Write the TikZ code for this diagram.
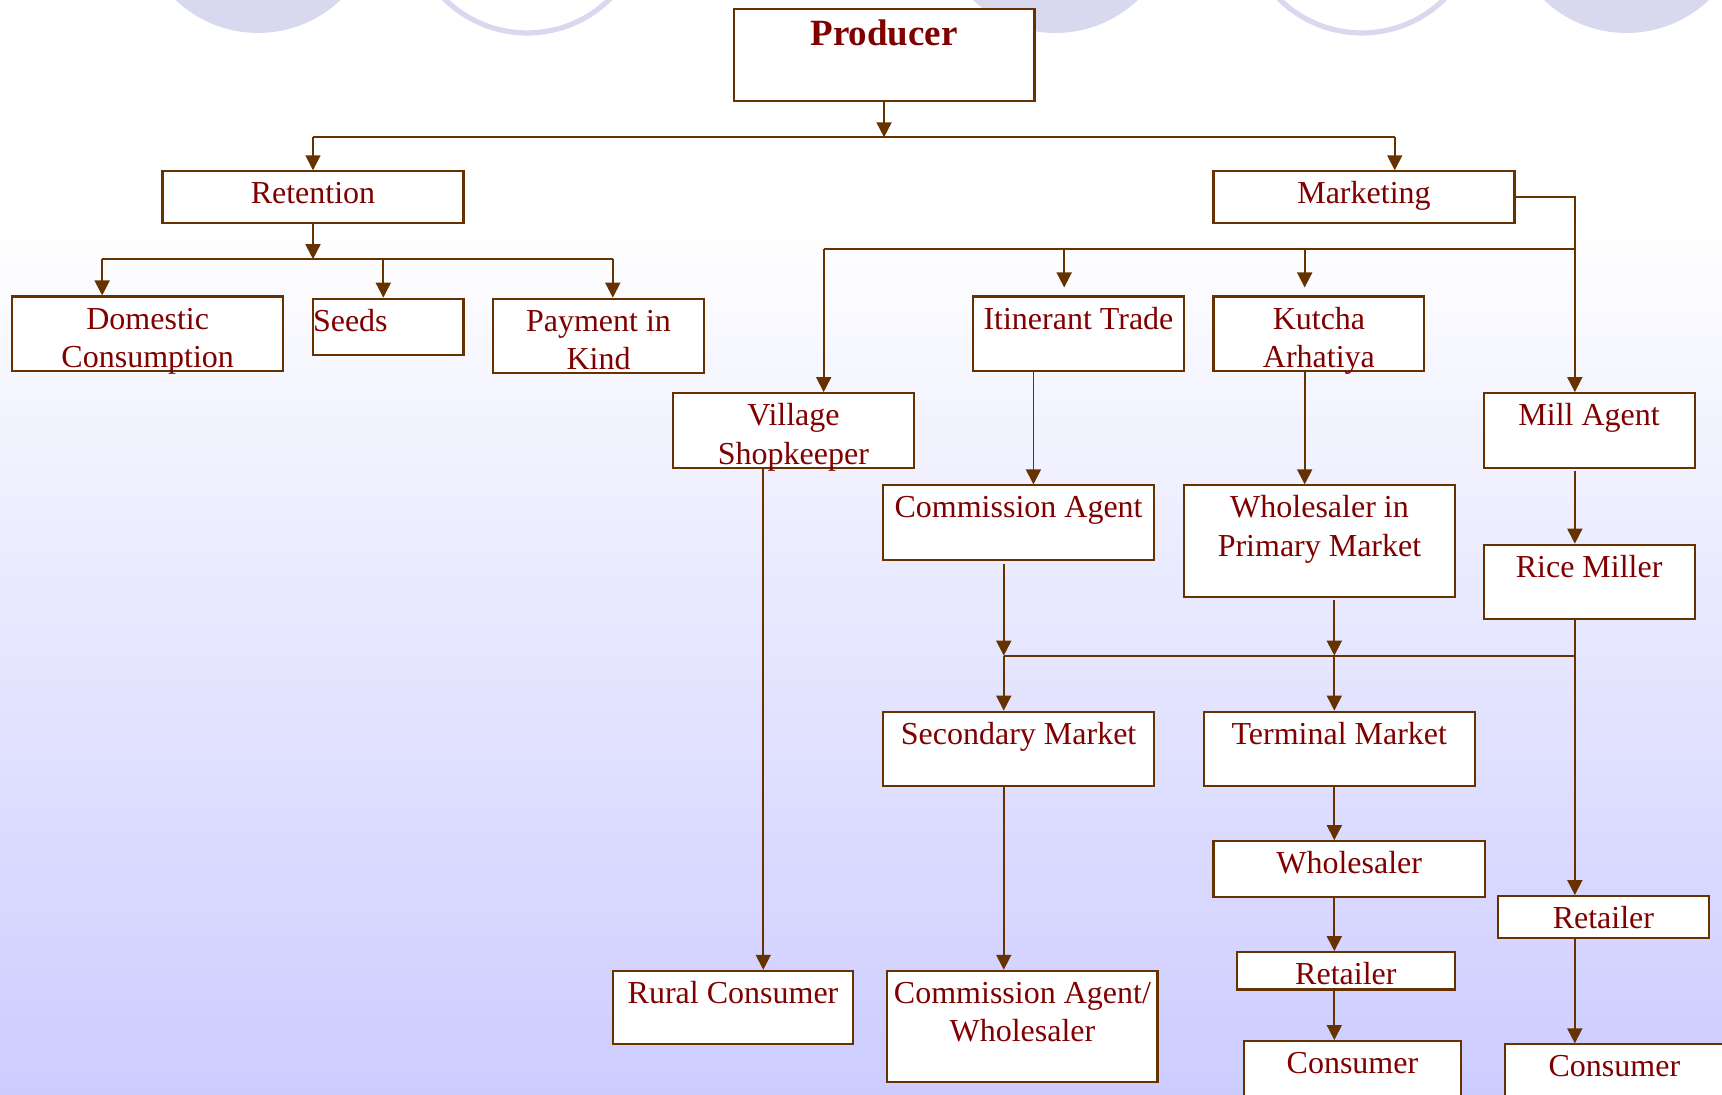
\documentclass[tikz,border=0pt]{standalone}
\usepackage{fontspec}
\setmainfont{Liberation Serif}
\usepackage{tikz}
\usetikzlibrary{arrows.meta}

\definecolor{lineBrown}{RGB}{102,51,0}
\definecolor{textRed}{RGB}{128,0,0}
\definecolor{bgBlue}{RGB}{204,204,255}
\definecolor{circleBlue}{RGB}{216,216,238}

\newcommand{\pxu}{0.5491pt}
% first line sits at a fixed distance under the top edge, last line fills the box
\newcommand{\firstln}{\rule{0pt}{16.2pt}}
\newcommand{\lastln}[1]{\rule[-#1pt]{0pt}{#1pt}}
\tikzset{boxsize/.style 2 args={minimum width=#1*\pxu,minimum height=#2*\pxu}}

\begin{document}
\begin{tikzpicture}[x=0.5491pt,y=-0.5491pt]
  \tikzstyle{BoxStyle}=[draw=lineBrown,line width=1.05pt,fill=white,text=textRed,
                        align=center,inner sep=0pt,font=\fontsize{16}{19.2}\selectfont]
  \tikzstyle{EdgeStyle}=[draw=lineBrown,line width=0.9pt,-{Triangle[width=7.5pt,length=7.5pt]}]
  \tikzstyle{BusStyle}=[draw=lineBrown,line width=0.9pt]
  \useasboundingbox (0,0) rectangle (1568,997);
  \clip (0,0) rectangle (1568,997);
  % background
  \fill[white] (0,0) rectangle (1568,200);
  \shade[top color=white,bottom color=bgBlue] (0,199) rectangle (1568,997);
  \fill[circleBlue] (235,-79) circle (109);
  \draw[circleBlue,line width=2.6pt] (480,-77) circle (107);
  \fill[circleBlue] (961,-79) circle (109);
  \draw[circleBlue,line width=2.6pt] (1240,-77) circle (107);
  \fill[circleBlue] (1481,-79) circle (109);
  % boxes
  \node[BoxStyle,boxsize={274}{84},font=\bfseries\fontsize{18.5}{22}\selectfont] (prod) at (805,50) {Producer\\~};
  \node[BoxStyle,boxsize={274}{47}] (ret) at (285,179.5) {\firstln Retention\lastln{9.5}};
  \node[BoxStyle,boxsize={274}{47}] (mkt) at (1242,179.5) {\firstln Marketing\lastln{9.5}};
  \node[BoxStyle,boxsize={247}{68}] (dom) at (134.5,304) {\firstln Domestic\\\smash{Consumption}\lastln{1.85}};
  \node[BoxStyle,boxsize={137}{51},text width=75.2pt,align=left] (seeds) at (353.5,297.5) {\firstln Seeds\lastln{11.7}};
  \node[BoxStyle,boxsize={192}{68}] (pay) at (545,306) {\firstln Payment in\\\smash{Kind}\lastln{1.85}};
  \node[BoxStyle,boxsize={192}{68}] (itin) at (982,304) {\firstln Itinerant Trade\lastln{21.05}};
  \node[BoxStyle,boxsize={192}{68}] (kutcha) at (1201,304) {\firstln Kutcha\\\smash{Arhatiya}\lastln{1.85}};
  \node[BoxStyle,boxsize={219}{68}] (shop) at (722.5,392) {\firstln Village\\\smash{Shopkeeper}\lastln{1.85}};
  \node[BoxStyle,boxsize={192}{68}] (mill) at (1447,392) {\firstln Mill Agent\lastln{21.05}};
  \node[BoxStyle,boxsize={247}{68}] (comm) at (927.5,476) {\firstln Commission Agent\lastln{21.05}};
  \node[BoxStyle,boxsize={247}{102}] (wpm) at (1201.5,493) {\firstln Wholesaler in\\Primary Market\lastln{20.5}};
  \node[BoxStyle,boxsize={192}{68}] (rice) at (1447,530) {\firstln Rice Miller\lastln{21.05}};
  \node[BoxStyle,boxsize={247}{68}] (sec) at (927.5,682) {\firstln Secondary Market\lastln{21.05}};
  \node[BoxStyle,boxsize={247}{68}] (term) at (1219.5,682) {\firstln Terminal Market\lastln{21.05}};
  \node[BoxStyle,boxsize={247}{51}] (whol) at (1228.5,791.5) {\firstln Wholesaler\lastln{11.7}};
  \node[BoxStyle,boxsize={192}{38}] (retR) at (1460,835) {\firstln Retailer\lastln{4.6}};
  \node[BoxStyle,boxsize={199}{34}] (retM) at (1225.5,884) {\firstln Retailer\lastln{2.4}};
  \node[BoxStyle,boxsize={219}{67}] (rural) at (667.5,917.5) {\firstln Rural Consumer\lastln{20.5}};
  \node[BoxStyle,boxsize={246}{101}] (caw) at (931,934.5) {\firstln Commission Agent/\\Wholesaler\lastln{20.0}};
  \node[BoxStyle,boxsize={197}{68}] (consM) at (1231.5,982) {\firstln Consumer\lastln{21.05}};
  \node[BoxStyle,boxsize={200}{68}] (consR) at (1470,985) {\firstln Consumer\lastln{21.05}};
  % junctions and columns
  \coordinate (b1) at (805,125);
  \coordinate (b1l) at (285,125);
  \coordinate (b1r) at (1270,125);
  \coordinate (b2) at (285,236);
  \coordinate (b2l) at (93,236);
  \coordinate (b2m) at (349,236);
  \coordinate (b2r) at (558,236);
  \coordinate (b3l) at (750,227);
  \coordinate (b3a) at (969,227);
  \coordinate (b3b) at (1188,227);
  \coordinate (b3r) at (1434,227);
  \coordinate (b4l) at (914,597);
  \coordinate (b4m) at (1215,597);
  \coordinate (b4r) at (1434,597);
  \coordinate (vShop) at (695,0);
  \coordinate (vItin) at (941,0);
  \coordinate (vKutcha) at (1188,0);
  \coordinate (vMill) at (1434,0);
  \coordinate (vSec) at (914,0);
  \coordinate (vTerm) at (1215,0);
  % producer
  \draw[EdgeStyle] (prod.south) -- (b1);
  \draw[BusStyle] (b1l) -- (b1r);
  \draw[EdgeStyle] (b1l) -- (b1l |- ret.north);
  \draw[EdgeStyle] (b1r) -- (b1r |- mkt.north);
  % retention
  \draw[EdgeStyle] (ret.south) -- (b2);
  \draw[BusStyle] (b2l) -- (b2r);
  \draw[EdgeStyle] (b2l) -- (b2l |- dom.north);
  \draw[EdgeStyle] (b2m) -- (b2m |- seeds.north);
  \draw[EdgeStyle] (b2r) -- (b2r |- pay.north);
  % marketing
  \draw[EdgeStyle] (mkt.east) -| (b3r |- mill.north);
  \draw[BusStyle] (b3l) -- (b3r);
  \draw[EdgeStyle] (b3l) -- (b3l |- shop.north);
  \draw[EdgeStyle,shorten >=4pt] (b3a) -- (b3a |- itin.north);
  \draw[EdgeStyle,shorten >=4pt] (b3b) -- (b3b |- kutcha.north);
  \draw[EdgeStyle] (vShop |- shop.south) -- (vShop |- rural.north);
  \draw[EdgeStyle] (vItin |- itin.south) -- (vItin |- comm.north);
  \draw[EdgeStyle] (vKutcha |- kutcha.south) -- (vKutcha |- wpm.north);
  \draw[EdgeStyle,shorten <=1pt] (vMill |- mill.south) -- (vMill |- rice.north);
  % markets
  \draw[EdgeStyle,shorten <=1.5pt] (vSec |- comm.south) -- (b4l);
  \draw[EdgeStyle,shorten <=1pt] (vTerm |- wpm.south) -- (b4m);
  \draw[BusStyle] (b4l) -- (b4r);
  \draw[EdgeStyle] (vMill |- rice.south) -- (vMill |- retR.north);
  \draw[EdgeStyle] (b4l) -- (b4l |- sec.north);
  \draw[EdgeStyle] (b4m) -- (b4m |- term.north);
  \draw[EdgeStyle] (vSec |- sec.south) -- (vSec |- caw.north);
  \draw[EdgeStyle] (vTerm |- term.south) -- (vTerm |- whol.north);
  \draw[EdgeStyle] (vTerm |- whol.south) -- (vTerm |- retM.north);
  \draw[EdgeStyle] (vTerm |- retM.south) -- (vTerm |- consM.north);
  \draw[EdgeStyle] (vMill |- retR.south) -- (vMill |- consR.north);
%  \draw[EdgeStyle] (mkt.south) -- (b3b);
\end{tikzpicture}
\end{document}
